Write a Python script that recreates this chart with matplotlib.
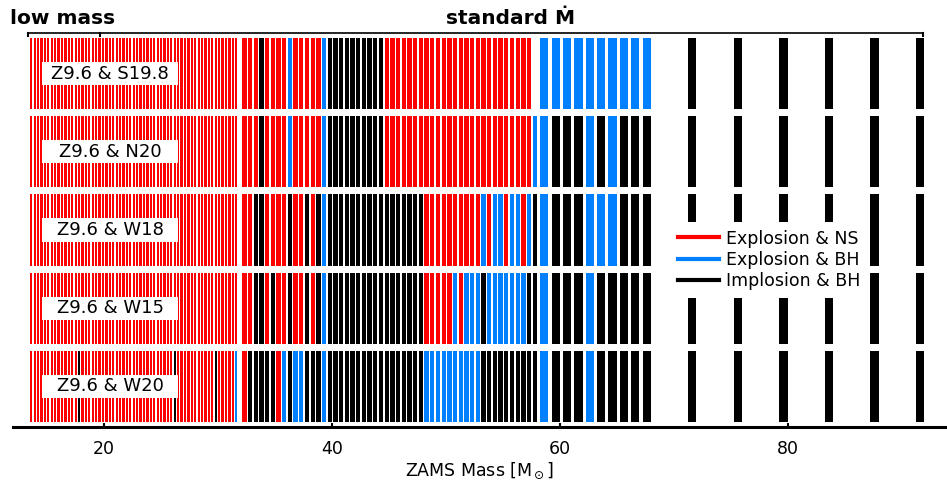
import numpy as np
import matplotlib.pyplot as plt
from matplotlib.lines import Line2D
from matplotlib.patches import Rectangle

# ZAMS masses (right edge of each model's bar) for the four grid spacings
mass_dense = [13.7, 14.0, 14.3, 14.6, 14.9, 15.2, 15.5, 15.8, 16.1, 16.4,
              16.7, 17.0, 17.3, 17.6, 17.9, 18.2, 18.5, 18.8, 19.1, 19.4,
              19.7, 20.0, 20.3, 20.6, 20.9, 21.2, 21.5, 21.8, 22.1, 22.4,
              22.7, 23.0, 23.3, 23.6, 23.9, 24.2, 24.5, 24.8, 25.1, 25.4,
              25.7, 26.0, 26.3, 26.6, 26.9, 27.2, 27.5, 27.8, 28.1, 28.4,
              28.7, 29.0, 29.3, 29.6, 29.9, 30.2, 30.5, 30.8, 31.1, 31.4,
              31.7]
mass_half = [32.5, 33.0, 33.5, 34.0, 34.5, 35.0, 35.5, 36.0, 36.5, 37.0,
             37.5, 38.0, 38.5, 39.0, 39.5, 40.0, 40.5, 41.0, 41.5, 42.0,
             42.5, 43.0, 43.5, 44.0, 44.5, 45.0, 45.5, 46.0, 46.5, 47.0,
             47.5, 48.0, 48.5, 49.0, 49.5, 50.0, 50.5, 51.0, 51.5, 52.0,
             52.5, 53.0, 53.5, 54.0, 54.5, 55.0, 55.5, 56.0, 56.5, 57.0,
             57.5, 58.0]
mass_one = [59, 60, 61, 62, 63, 64, 65, 66, 67, 68]
mass_four = [72, 76, 80, 84, 88, 92]

# outcome codes: r = explosion & NS, b = explosion & BH, k = implosion & BH, . = none
row_names = ["Z9.6 & S19.8", "Z9.6 & N20", "Z9.6 & W18", "Z9.6 & W15", "Z9.6 & W20"]

dense_s198 = "rrrrrrrrrr rrrrrrrrrr rrrrrrrrrr rrrrrrrrrr rrrrrrrrrr rrrrrrrrrr r"
dense_n20 = "rrrrrrrrrr rrrrrrrrrr rrrrrrrrrr rrrrrrrrrr rrrrrrrrrr rrrrrrrrrr r"
dense_w18 = "rrrrrrrrrr rrrrrrrrrr rrrrrrrrrr rrrrrrrrrr rrrrrrrrrr rrrrrrrrrr r"
dense_w15 = "rrrrrrrrrr rrrrrrrrrr rrrrrrrrrr rrrrrrrrrr rrrrrrrrrr rrrrrrrrrr r"
dense_w20 = "rrrrrrrrrr rrrrkrrrrr rrrrrrrrrr rrrrrrrrrr rrkrrrrrrr rrrrkrrrrr b"

half_s198 = "rrrkrrrrbr rrrrbkkkkk kkkkkrrrrr rrrrrrrrrr rrrrrrrrrr r."
half_n20 = "rrrkrrrrbr rrrrbkkkkk kkkkkrrrrr rrrrrrrrrr rrrrrrrrrr rb"
half_w18 = "rrkkrrrrkr rkrkbkkkkk kkkkkkkkkk kkrrrrrrrr rrbrbbrbbr bk"
half_w15 = "rrkkrkrrkr rkrkbkkkkk kkkkkkkkkk kkrrrrrbrb bbkbbbbbbb kk"
half_w20 = "rkkkkkrbkb bkkkbkkkkk kkkkkkkkkk kkbbbbbbbb bbkkkkkkkk kk"

one_s198 = "bbbbbbbbbb"
one_n20 = "bkkkbkbkkk"
one_w18 = "bkkkbbbkkk"
one_w15 = "bkkkbkkkkk"
one_w20 = "bkkkbkkkkk"

four_s198 = "kkkkkk"
four_n20 = "kkkkkk"
four_w18 = "kkkkkk"
four_w15 = "kkkkkk"
four_w20 = "kkkkkk"

rows = [
    (dense_s198, half_s198, one_s198, four_s198),
    (dense_n20, half_n20, one_n20, four_n20),
    (dense_w18, half_w18, one_w18, four_w18),
    (dense_w15, half_w15, one_w15, four_w15),
    (dense_w20, half_w20, one_w20, four_w20),
]

colors = {"r": "#ff0000", "b": "#0080ff", "k": "#000000"}
grids = [(mass_dense, 0.2), (mass_half, 0.38), (mass_one, 0.72), (mass_four, 0.72)]

plt.rcParams['font.family'] = ['DejaVu Sans']
fig = plt.figure(figsize=(9.47, 4.9), dpi=100)
ax = fig.add_axes([13 / 947, 63 / 490, 934 / 947, 394 / 490])

half_h = 0.455
for i, codes in enumerate(rows):
    yc = len(rows) - 1 - i
    for (masses, w), code in zip(grids, codes):
        code = code.replace(" ", "")
        xs = [m - w for m, c in zip(masses, code) if c != "."]
        cs = [colors[c] for c in code if c != "."]
        ax.bar(xs, 2 * half_h, width=w, bottom=yc - half_h, align='edge',
               color=cs, linewidth=0)
    ax.add_patch(Rectangle((14.56, yc - 0.148), 11.93, 0.296, facecolor='white',
                           edgecolor='none', zorder=3))
    ax.text(20.53, yc, row_names[i], ha='center', va='center', fontsize=13,
            zorder=4)

ax.set_xlim(12.0, 94.0)
ax.set_ylim(-0.52, 4.52)

# bracket along the top
top_x = [13.3, 19.65, 91.9]
ax.plot([top_x[0], top_x[-1]], [4.52, 4.52], color='black', lw=1.2, clip_on=False)
for xb in top_x:
    ax.plot([xb, xb], [4.52, 4.48], color='black', lw=1.5, clip_on=False)
fig.text(10 / 947, 1 - 18 / 490, "low mass", fontsize=14.5, fontweight='bold',
         ha='left', va='center')
fig.text(511 / 947, 1 - 18 / 490, "standard \u1E40", fontsize=14.5,
         fontweight='bold', ha='center', va='center')

for s in ['top', 'left', 'right']:
    ax.spines[s].set_visible(False)
ax.spines['bottom'].set_linewidth(2.2)
ax.set_yticks([])
ax.set_xticks([20, 40, 60, 80])
ax.tick_params(axis='x', direction='in', length=3, width=1.5, pad=9, labelsize=12.5)
ax.set_xlabel(r"ZAMS Mass [M$_\odot$]", fontsize=12.5, labelpad=2)

handles = [Line2D([], [], color=colors["r"], lw=3),
           Line2D([], [], color=colors["b"], lw=3),
           Line2D([], [], color=colors["k"], lw=3)]
leg = ax.legend(handles, ["Explosion & NS", "Explosion & BH", "Implosion & BH"],
                loc='center left', bbox_to_anchor=(670 / 947, 1 - 260 / 490),
                bbox_transform=fig.transFigure, fontsize=12.5, frameon=True,
                fancybox=False, framealpha=1, edgecolor='none',
                handlelength=2.4, handletextpad=0.4, labelspacing=0.2,
                borderpad=0.45, borderaxespad=0)
leg.set_zorder(5)

fig.savefig("out.png", dpi=100)
